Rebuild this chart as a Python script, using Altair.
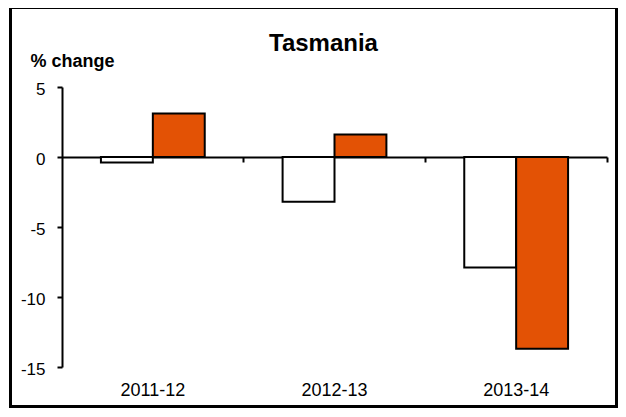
import altair as alt
import pandas as pd

categories = ["2011-12", "2012-13", "2013-14"]
series_names = ["Series 1", "Series 2"]
series1_values = [-0.4, -3.2, -7.9]
series2_values = [3.1, 1.6, -13.7]
y_ticks = [5, 0, -5, -10, -15]

rows = []
for i, c in enumerate(categories):
    rows.append({"period": c, "series": series_names[0], "value": series1_values[i]})
    rows.append({"period": c, "series": series_names[1], "value": series2_values[i]})
df = pd.DataFrame(rows)

W, H = 545, 280
YMIN, YMAX = -15, 5
zero_y = H * (YMAX - 0) / (YMAX - YMIN)
FONT = "Liberation Sans"
PAD_L, PAD_T = 54, 79
SVG_W, SVG_H = 610, 400

bars = alt.Chart(df).mark_bar(stroke="black", strokeWidth=2).encode(
    x=alt.X(
        "period:N",
        sort=categories,
        scale=alt.Scale(paddingInner=0, paddingOuter=0),
        axis=alt.Axis(
            title=None,
            orient="bottom",
            offset=-(H - zero_y),
            domain=True,
            domainColor="black",
            domainWidth=2,
            ticks=True,
            tickColor="black",
            tickWidth=2,
            tickSize=5,
            bandPosition=1,
            labelAngle=0,
            labelFont=FONT,
            labelFontSize=18,
            labelColor="black",
            labelBaseline="alphabetic",
            labelPadding=(395 - 157 - 5),
            grid=False,
        ),
    ),
    xOffset=alt.XOffset("series:N", sort=series_names,
                        scale=alt.Scale(paddingInner=0, paddingOuter=0.75)),
    y=alt.Y(
        "value:Q",
        scale=alt.Scale(domain=[YMIN, YMAX], nice=False, zero=False),
        axis=alt.Axis(
            values=y_ticks,
            labelExpr="toString(datum.value)",
            title="% change",
            titleAngle=0,
            titleAlign="left",
            titleBaseline="alphabetic",
            titleX=-32,
            titleY=-21,
            titleFont=FONT,
            titleFontSize=18,
            titleFontWeight="bold",
            titleColor="black",
            domainColor="black",
            domainWidth=2,
            tickColor="black",
            tickWidth=2,
            tickSize=5,
            labelFont=FONT,
            labelFontSize=17,
            labelColor="black",
            labelPadding=12,
            labelBaseline="alphabetic",
            labelOffset=7,
            grid=False,
        ),
    ),
    fill=alt.Fill("series:N", sort=series_names,
                  scale=alt.Scale(domain=series_names, range=["white", "#E35205"]),
                  legend=None),
)

frame = alt.Chart(pd.DataFrame({"k": [0]})).mark_rect(
    fill="transparent", stroke="black", strokeWidth=3
).encode(
    x=alt.value(10.5 - 8 - PAD_L), x2=alt.value(SVG_W - 1.5 - PAD_L),
    y=alt.value(7.5 - 8 - PAD_T), y2=alt.value(SVG_H - 1.5 - PAD_T),
)

chart = alt.layer(frame, bars).properties(
    width=W,
    height=H,
    background="white",
    title=alt.Title(
        "Tasmania",
        font=FONT,
        fontSize=24,
        fontWeight="bold",
        color="black",
        anchor="middle",
        frame="group",
        dx=-11,
        dy=73,
        baseline="alphabetic",
    ),
    autosize=alt.AutoSizeParams(type="none"),
    padding={"left": PAD_L, "top": PAD_T, "right": SVG_W - PAD_L - W,
             "bottom": SVG_H - PAD_T - H},
).configure_view(strokeWidth=0, stroke="transparent")

chart.save("out.html", embed_options={"renderer": "svg", "actions": False})
